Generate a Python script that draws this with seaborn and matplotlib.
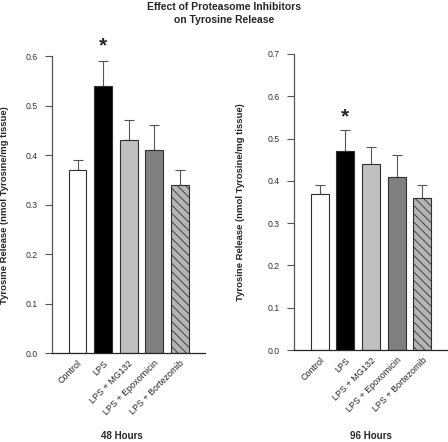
import matplotlib
matplotlib.use("Agg")
import matplotlib.pyplot as plt
import pandas as pd
import seaborn as sns

# ------------------- data -------------------
groups = ["Control", "LPS", "LPS + MG132", "LPS + Epoxomicin", "LPS + Bortezomib"]
vals_48 = [0.37, 0.54, 0.43, 0.41, 0.34]
err_48 = [0.02, 0.05, 0.04, 0.05, 0.03]
vals_96 = [0.37, 0.47, 0.44, 0.41, 0.36]
err_96 = [0.02, 0.05, 0.04, 0.05, 0.03]

colors = ["#ffffff", "#000000", "#c0c0c0", "#808080", "#b4b4b4"]
hatches = ["", "", "", "", "\\\\\\\\"]

sns.set_style("ticks")
plt.rcParams['font.family'] = ['Liberation Sans', 'DejaVu Sans']
plt.rcParams['hatch.linewidth'] = 0.6

fig = plt.figure(figsize=(4.48, 4.42), dpi=100)
ax1 = fig.add_axes([0.116, 0.201, 0.342, 0.672])
ax2 = fig.add_axes([0.656, 0.208, 0.344, 0.670])


def draw_panel(ax, vals, errs, ymax, label):
    df = pd.DataFrame({"group": groups, "value": vals})
    sns.barplot(data=df, x="group", y="value", order=groups, ax=ax,
                width=0.7, errorbar=None, edgecolor="#303030", linewidth=0.8)
    for p, c, h in zip(ax.patches, colors, hatches):
        p.set_facecolor(c)
        p.set_hatch(h)
    ax.errorbar(range(len(vals)), vals, yerr=[[0] * len(vals), errs], fmt="none",
                ecolor="#555555", elinewidth=0.8, capsize=3.5, capthick=0.8, zorder=0)
    ax.set_xlim(-1, 5)
    ax.set_ylim(0, ymax)
    n = int(round(ymax * 10))
    ax.set_yticks([i / 10 for i in range(n + 1)])
    ax.set_yticklabels(["%.1f" % (i / 10) for i in range(n + 1)])
    ax.tick_params(axis="y", labelsize=6.3, length=5, width=0.8, color="#555555",
                   labelcolor="#333333", pad=5)
    ax.tick_params(axis="x", length=0, labelsize=6.5, pad=4)
    plt.setp(ax.get_xticklabels(), rotation=45, ha="right", rotation_mode="anchor")
    ax.set_xlabel(label, fontsize=7, fontweight="bold", va="baseline")
    ax.set_ylabel("Tyrosine Release (nmol Tyrosine/mg tissue)", fontsize=6.8,
                  fontweight="bold")
    sns.despine(ax=ax)
    ax.spines["left"].set_color("#555555")
    ax.spines["left"].set_linewidth(0.9)
    ax.spines["bottom"].set_linewidth(0.9)
    # significance star above LPS
    ax.text(1, vals[1] + errs[1] + 0.03, "*", ha="center", va="center",
            fontsize=15, fontweight="bold")


draw_panel(ax1, vals_48, err_48, 0.6, "48 Hours")
draw_panel(ax2, vals_96, err_96, 0.7, "96 Hours")
ax1.yaxis.set_label_coords(-0.28, 0.5)
ax2.yaxis.set_label_coords(-0.32, 0.5)
ax1.xaxis.set_label_coords(0.457, -0.29)
ax2.xaxis.set_label_coords(0.5, -0.30)

fig.text(0.5, 0.995, "Effect of Proteasome Inhibitors\non Tyrosine Release", ha="center",
         va="top", fontsize=7.5, fontweight="bold", linespacing=1.3)

fig.savefig("out.png", dpi=100)
